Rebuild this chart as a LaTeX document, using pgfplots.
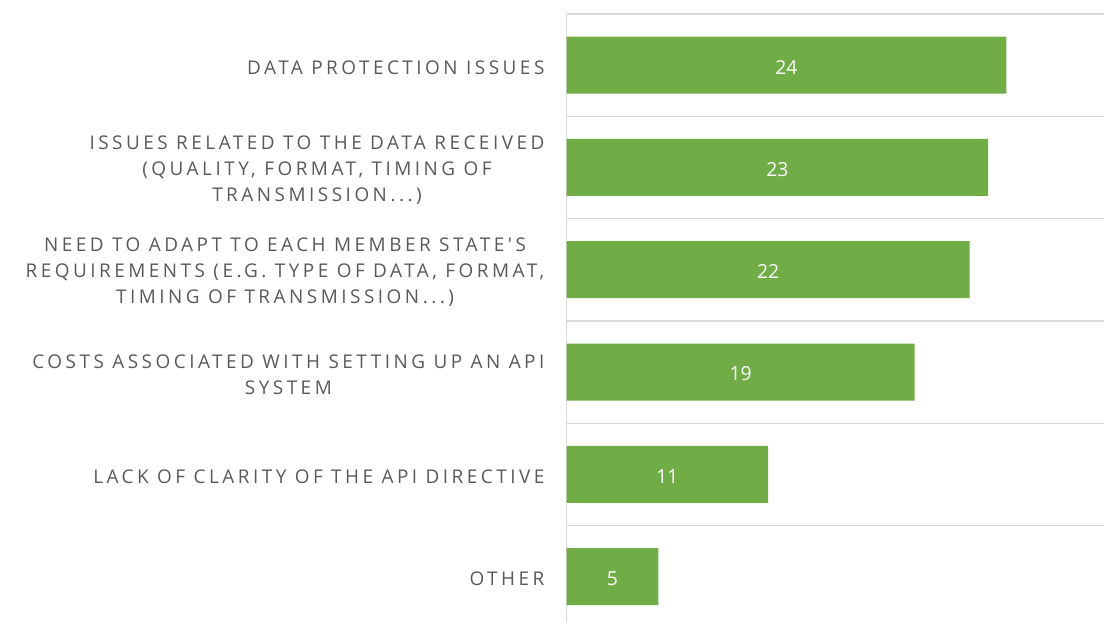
\documentclass[border=0pt]{standalone}
\usepackage{pgfplots}
\pgfplotsset{compat=1.18}
\usepackage{fontspec}
\setmainfont{Open Sans}
\newfontfamily\spaced[LetterSpace=18.5]{Open Sans}
\definecolor{bargreen}{HTML}{70AD47}
\definecolor{labgray}{HTML}{595959}
\definecolor{gridgray}{HTML}{D9D9D9}
\def\ddd{...}
\begin{document}
\begin{tikzpicture}
\begin{axis}[
  name=ax,
  xbar,
  width=403.5pt, height=456pt,
  scale only axis,
  xmin=0, xmax=29.35,
  ymin=-0.5, ymax=5.44,
  y dir=reverse,
  bar width=42.75pt,
  axis x line=none,
  axis y line*=left,
  y axis line style={draw=gridgray, line width=1pt},
  ytick={0,1,2,3,4,5},
  yticklabels={
    {DATA PROTECTION ISSUES},
    {ISSUES RELATED TO THE DATA RECEIVED\\(QUALITY, FORMAT, TIMING OF\\TRANSMISSION\ddd)},
    {NEED TO ADAPT TO EACH MEMBER STATE'S\\REQUIREMENTS (E.G. TYPE OF DATA, FORMAT,\\TIMING OF TRANSMISSION\ddd)},
    {COSTS ASSOCIATED WITH SETTING UP AN API\\SYSTEM},
    {LACK OF CLARITY OF THE API DIRECTIVE},
    {OTHER}},
  yticklabel style={align=center, inner sep=0pt, xshift=-16.5pt, yshift=-1.8pt,
    font=\spaced\fontsize{14.2}{19.5}\selectfont, text=labgray},
  major tick length=0pt,
  minor ytick={-0.5,0.5,1.5,2.5,3.5,4.5},
  yminorgrids=true,
  minor tick length=0pt,
  minor grid style={draw=gridgray, line width=1pt},
  /pgf/number format/assume math mode=true,
  clip=false,
]
\addplot[fill=bargreen, draw=none,
  nodes near coords,
  visualization depends on={x/2 \as \halfx},
  every node near coord/.append style={text=white, anchor=center,
    font=\fontsize{14.5}{16}\selectfont, yshift=-1.5pt,
    shift={(axis direction cs:-\halfx,0)}}]
  coordinates {(24,0) (23,1) (22,2) (19,3) (11,4) (5,5)};
\end{axis}
\path (ax.south west) +(-425.25pt,0) rectangle ([yshift=10.5pt]ax.north east);
\end{tikzpicture}
\end{document}
